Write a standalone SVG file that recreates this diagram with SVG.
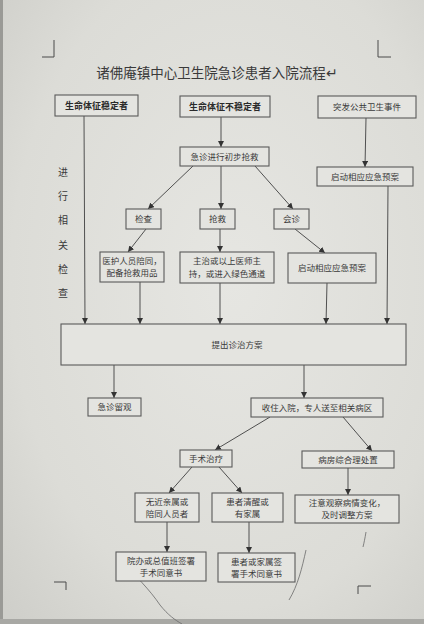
<svg xmlns="http://www.w3.org/2000/svg" width="424" height="624" viewBox="0 0 424 624">
<style>
  .box { fill: #e4e4e0; stroke: #5a5a5a; stroke-width: 1.1; }
  .t { font-family: "Liberation Sans", "Noto Sans CJK SC", sans-serif; font-size: 8.5px; fill: #3a3a3a; text-anchor: middle; }
  .tb { font-family: "Liberation Sans", "Noto Sans CJK SC", sans-serif; font-size: 9px; fill: #2a2a2a; text-anchor: middle; font-weight: bold; }
  .side { font-family: "Liberation Sans", "Noto Sans CJK SC", sans-serif; font-size: 10px; fill: #3a3a3a; text-anchor: middle; }
  .title { font-family: "Liberation Sans", "Noto Sans CJK SC", sans-serif; font-size: 13.5px; fill: #3a3a3a; text-anchor: middle; }
  .c { stroke: #505050; stroke-width: 1; fill: none; marker-end: url(#ah); }
  .crop { stroke: #4a4a4a; stroke-width: 1; fill: none; }
  .pen { stroke: #6a6a6a; stroke-width: 0.8; fill: none; }
</style>
<defs>
  <marker id="ah" viewBox="0 0 6 6" refX="6" refY="3" markerWidth="6" markerHeight="6" markerUnits="userSpaceOnUse" orient="auto">
    <path d="M0,0 L6,3 L0,6 z" fill="#333"/>
  </marker>
  <radialGradient id="bg" cx="0.55" cy="0.45" r="0.75">
    <stop offset="0" stop-color="#e6e6e2"/>
    <stop offset="0.7" stop-color="#dcdcd7"/>
    <stop offset="1" stop-color="#cfcfca"/>
  </radialGradient>
</defs>
<rect width="424" height="624" fill="url(#bg)"/>
<rect x="0" y="0" width="3" height="624" fill="#9a9a96"/>
<rect x="0" y="619" width="424" height="5" fill="#a8a8a4"/>

<!-- crop marks -->
<path class="crop" d="M54,40 V57 H42"/>
<path class="crop" d="M378,40 V57 H391"/>
<path class="crop" d="M54,582 H66 V590"/>
<path class="crop" d="M371,586 H358 V594"/>

<!-- pen marks -->
<path class="pen" d="M120,560 C135,575 150,590 160,605 C168,615 175,620 182,624"/>
<path class="pen" d="M306,550 C302,568 298,585 289,600"/>
<path class="pen" d="M366,532 C365,538 364,543 363,547"/>

<text class="title" x="217" y="78">诸佛庵镇中心卫生院急诊患者入院流程↵</text>

<g id="side-label">
  <text class="side" x="63" y="176">进</text>
  <text class="side" x="63" y="200">行</text>
  <text class="side" x="63" y="224">相</text>
  <text class="side" x="63" y="249">关</text>
  <text class="side" x="63" y="273">检</text>
  <text class="side" x="63" y="297">查</text>
</g>

<g id="connectors">
  <line class="c" x1="84" y1="116" x2="85" y2="324"/>
  <line class="c" x1="221" y1="117" x2="221" y2="147"/>
  <line class="c" x1="366" y1="118" x2="365" y2="167"/>
  <line class="c" x1="388" y1="186" x2="387" y2="324"/>
  <line class="c" x1="193" y1="166" x2="148" y2="209"/>
  <line class="c" x1="221" y1="166" x2="221" y2="209"/>
  <line class="c" x1="255" y1="166" x2="293" y2="209"/>
  <line class="c" x1="146" y1="229" x2="128" y2="252"/>
  <line class="c" x1="220" y1="229" x2="220" y2="252"/>
  <line class="c" x1="295" y1="229" x2="325" y2="253"/>
  <line class="c" x1="140" y1="282" x2="140" y2="324"/>
  <line class="c" x1="220" y1="283" x2="220" y2="324"/>
  <line class="c" x1="327" y1="283" x2="326" y2="324"/>
  <line class="c" x1="114" y1="365" x2="114" y2="398"/>
  <line class="c" x1="304" y1="365" x2="304" y2="398"/>
  <line class="c" x1="270" y1="417" x2="215" y2="450"/>
  <line class="c" x1="343" y1="417" x2="372" y2="451"/>
  <line class="c" x1="192" y1="467" x2="169" y2="493"/>
  <line class="c" x1="219" y1="467" x2="242" y2="493"/>
  <line class="c" x1="348" y1="468" x2="348" y2="495"/>
  <line class="c" x1="167" y1="522" x2="167" y2="552"/>
  <line class="c" x1="249" y1="522" x2="249" y2="553"/>
</g>

<g id="n-stable"><rect class="box" x="55" y="95" width="83" height="21"/><text class="tb" x="96.5" y="109">生命体征稳定者</text></g>
<g id="n-unstable"><rect class="box" x="180" y="96" width="90" height="21"/><text class="tb" x="225" y="110">生命体征不稳定者</text></g>
<g id="n-public"><rect class="box" x="318" y="96" width="98" height="22"/><text class="t" x="367" y="110">突发公共卫生事件</text></g>
<g id="n-rescue-init"><rect class="box" x="180" y="147" width="89" height="19"/><text class="t" x="224.5" y="160">急诊进行初步抢救</text></g>
<g id="n-plan1"><rect class="box" x="317" y="167" width="96" height="19"/><text class="t" x="365" y="180">启动相应应急预案</text></g>
<g id="n-check"><rect class="box" x="126" y="209" width="35" height="20"/><text class="t" x="143.5" y="222">检查</text></g>
<g id="n-rescue"><rect class="box" x="200" y="209" width="35" height="20"/><text class="t" x="217.5" y="222">抢救</text></g>
<g id="n-consult"><rect class="box" x="274" y="209" width="35" height="20"/><text class="t" x="291.5" y="222">会诊</text></g>
<g id="n-escort"><rect class="box" x="100" y="252" width="64" height="30"/><text class="t" x="132" y="264">医护人员陪同，</text><text class="t" x="132" y="276">配备抢救用品</text></g>
<g id="n-doctor"><rect class="box" x="180" y="252" width="94" height="31"/><text class="t" x="227" y="264">主治或以上医师主</text><text class="t" x="227" y="277">持，或进入绿色通道</text></g>
<g id="n-plan2"><rect class="box" x="288" y="253" width="88" height="30"/><text class="t" x="332" y="271">启动相应应急预案</text></g>
<g id="n-treatment"><rect class="box" x="61" y="324" width="345" height="41"/><text class="t" x="237" y="348">提出诊治方案</text></g>
<g id="n-observe"><rect class="box" x="88" y="398" width="53" height="18"/><text class="t" x="114.5" y="410">急诊留观</text></g>
<g id="n-admit"><rect class="box" x="251" y="398" width="132" height="19"/><text class="t" x="317" y="411">收住入院，专人送至相关病区</text></g>
<g id="n-surgery"><rect class="box" x="180" y="450" width="52" height="17"/><text class="t" x="206" y="462">手术治疗</text></g>
<g id="n-ward"><rect class="box" x="302" y="451" width="92" height="17"/><text class="t" x="348" y="463">病房综合理处置</text></g>
<g id="n-norelative"><rect class="box" x="135" y="493" width="64" height="29"/><text class="t" x="167" y="505">无近亲属或</text><text class="t" x="167" y="517">陪同人员者</text></g>
<g id="n-conscious"><rect class="box" x="212" y="493" width="71" height="29"/><text class="t" x="247.5" y="505">患者清醒或</text><text class="t" x="247.5" y="517">有家属</text></g>
<g id="n-observe2"><rect class="box" x="295" y="495" width="104" height="28"/><text class="t" x="347" y="506">注意观察病情变化，</text><text class="t" x="347" y="518">及时调整方案</text></g>
<g id="n-office-sign"><rect class="box" x="116" y="552" width="90" height="29"/><text class="t" x="161" y="564">院办或总值班签署</text><text class="t" x="161" y="576">手术同意书</text></g>
<g id="n-family-sign"><rect class="box" x="218" y="553" width="77" height="29"/><text class="t" x="256.5" y="565">患者或家属签</text><text class="t" x="256.5" y="577">署手术同意书</text></g>
</svg>
